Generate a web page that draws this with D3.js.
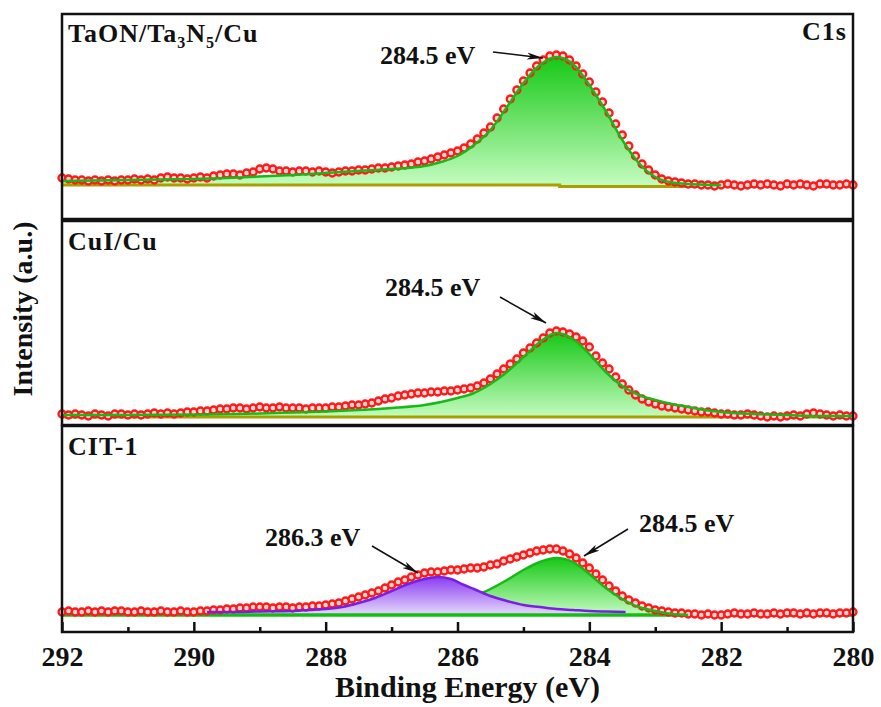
<!DOCTYPE html>
<html>
<head>
<meta charset="utf-8">
<script src="https://cdn.jsdelivr.net/npm/d3@7"></script>
<style>
body { margin: 0; background: #fff; }
text { font-family: "Liberation Serif", "Times New Roman", serif; font-weight: bold; fill: #111; }
</style>
</head>
<body>
<svg width="881" height="707"></svg>
<script>
// binding energy of every measured point (eV)
var energies = [292.0, 291.9, 291.8, 291.7, 291.6, 291.5, 291.4, 291.3, 291.2, 291.1,
  291.0, 290.9, 290.8, 290.7, 290.6, 290.5, 290.4, 290.3, 290.2, 290.1,
  290.0, 289.9, 289.8, 289.7, 289.6, 289.5, 289.4, 289.3, 289.2, 289.1,
  289.0, 288.9, 288.8, 288.7, 288.6, 288.5, 288.4, 288.3, 288.2, 288.1,
  288.0, 287.9, 287.8, 287.7, 287.6, 287.5, 287.4, 287.3, 287.2, 287.1,
  287.0, 286.9, 286.8, 286.7, 286.6, 286.5, 286.4, 286.3, 286.2, 286.1,
  286.0, 285.9, 285.8, 285.7, 285.6, 285.5, 285.4, 285.3, 285.2, 285.1,
  285.0, 284.9, 284.8, 284.7, 284.6, 284.5, 284.4, 284.3, 284.2, 284.1,
  284.0, 283.9, 283.8, 283.7, 283.6, 283.5, 283.4, 283.3, 283.2, 283.1,
  283.0, 282.9, 282.8, 282.7, 282.6, 282.5, 282.4, 282.3, 282.2, 282.1,
  282.0, 281.9, 281.8, 281.7, 281.6, 281.5, 281.4, 281.3, 281.2, 281.1,
  281.0, 280.9, 280.8, 280.7, 280.6, 280.5, 280.4, 280.3, 280.2, 280.1,
  280.0];

// measured intensities (a.u., background removed)
var rawTaON = [7, 6, 5, 5, 4, 5, 4, 5, 4, 5,
  5, 6, 5, 6, 5, 7, 8, 7, 7, 6,
  7, 8, 7, 9, 10, 11, 11, 10, 12, 13,
  16, 17, 16, 14, 14, 13, 14, 14, 13, 14,
  13, 12, 13, 14, 14, 15, 15, 16, 17, 17,
  18, 19, 20, 21, 23, 24, 26, 28, 30, 32,
  34, 37, 41, 46, 52, 58, 67, 76, 86, 95,
  104, 112, 119, 125, 129, 130, 129, 125, 119, 111,
  103, 93, 83, 72, 61, 50, 39, 29, 21, 15,
  10, 6, 4, 3, 2, 1, 1, 0, 0, -1,
  0, 1, 0, -1, 0, 1, 0, 1, 0, -1,
  1, 0, 1, 0, -1, 1, 1, 0, 0, 1,
  0];
var rawCuI = [3, 2, 3, 2, 1, 3, 2, 1, 3, 3,
  2, 3, 2, 3, 4, 3, 4, 3, 4, 5,
  5, 6, 6, 7, 8, 8, 9, 9, 8, 9,
  10, 9, 9, 10, 9, 9, 9, 8, 9, 9,
  9, 10, 10, 11, 12, 12, 13, 14, 16, 18,
  19, 21, 22, 23, 24, 24, 25, 25, 26, 26,
  27, 28, 29, 31, 34, 38, 43, 48, 53, 58,
  64, 69, 74, 79, 84, 86, 85, 83, 80, 76,
  70, 61, 54, 48, 40, 33, 27, 22, 18, 15,
  13, 11, 10, 9, 8, 7, 6, 5, 5, 4,
  3, 3, 2, 2, 3, 2, 1, 0, 1, 0,
  1, 2, 1, 3, 4, 3, 2, 1, 2, 1,
  1];
var rawCIT = [3, 4, 3, 3, 4, 3, 4, 3, 4, 4,
  3, 3, 4, 3, 3, 4, 3, 3, 4, 3,
  3, 4, 4, 5, 5, 6, 6, 7, 7, 8,
  8, 8, 7, 8, 8, 7, 8, 8, 9, 9,
  10, 11, 12, 14, 16, 18, 20, 22, 24, 27,
  30, 33, 35, 38, 40, 42, 43, 43, 44, 45,
  45, 46, 47, 47, 48, 50, 51, 54, 56, 58,
  60, 62, 64, 65, 66, 66, 64, 61, 57, 52,
  47, 41, 35, 29, 24, 19, 15, 12, 9, 7,
  5, 4, 3, 2, 2, 1, 1, 0, 1, 0,
  0, 1, 2, 1, 1, 2, 1, 1, 2, 1,
  2, 2, 1, 2, 1, 2, 2, 1, 2, 2,
  3];

// fitted C-C peak (284.5 eV) of each sample
var fitTaONE = [292, 291.5, 291, 290.5, 290, 289.5, 289, 288.5, 288, 287.5, 287, 286.5, 286.25, 286,
  285.75, 285.5, 285.25, 285, 284.75, 284.5, 284.25, 284, 283.75, 283.5, 283.25, 283, 282.75, 282.5, 282.25, 282];
var fitTaONI = [4, 4.5, 5, 5.5, 6, 7, 8.5, 10, 12, 14, 16, 19, 23, 29,
  40, 55, 78, 102, 120, 128, 121, 100, 74, 45, 22, 8, 2.5, 1, 0.3, 0];
var fitCuIE = [292, 291, 290, 289, 288.5, 288, 287.5, 287, 286.5, 286.25, 286, 285.75, 285.5, 285.25, 285,
  284.75, 284.5, 284.25, 284, 283.75, 283.5, 283.25, 283, 282.75, 282.5, 282.25, 282, 281.5, 281, 280.5, 280];
var fitCuII = [2, 2, 2.5, 3.5, 4.5, 5.5, 7, 9, 12, 15, 19, 24, 33, 45, 60,
  75, 84, 78, 63, 45, 31, 22, 17, 13, 10, 7, 5, 3, 2, 1, 1];
var fitCITE = [285.63, 285.5, 285.25, 285, 284.75, 284.5, 284.25, 284, 283.75, 283.5, 283.25, 283, 282.75, 282.5];
var fitCITI = [22, 26, 35, 45, 53, 57, 53, 41, 27, 16, 8, 4, 1, 0];
// fitted C-O peak (286.3 eV) of CIT-1
var fitCOE = [289.8, 289.5, 289, 288.5, 288.25, 288, 287.75, 287.5, 287.25, 287, 286.75, 286.5, 286.3,
  286.1, 285.9, 285.75, 285.5, 285.25, 285, 284.75, 284.5, 284.25, 284, 283.75, 283.45];
var fitCOI = [3, 3, 3.5, 4, 5, 6, 8, 12, 17, 24, 31, 36, 38,
  36, 30, 26, 19, 14, 10, 8, 6, 5, 4, 3.5, 3];
// background lines
var bgTaONE = [292, 284.45, 284.45, 280];
var bgTaONI = [0, 0, -1.5, -1.5];
var bgFlatE = [292, 280];
var bgFlatI = [0, 0];

var sampleNames = ["CuI/Cu", "CIT-1"];
var xMajor = [292, 290, 288, 286, 284, 282, 280];
var xMinor = [291, 289, 287, 285, 283, 281];

var svg = d3.select("svg");
var left = 62, right = 853;
var x = d3.scaleLinear().domain([292, 280]).range([left, right]);

// three stacked panels, 1 a.u. = 1 px
var panels = [{top: 14, bottom: 219, base: 185},
              {top: 221, bottom: 425, base: 417},
              {top: 426, bottom: 632, base: 615}];
panels.forEach(function(p) {
  p.y = d3.scaleLinear().domain([0, 100]).range([p.base, p.base - 100]);
});

var defs = svg.append("defs");
function grad(id, c0, c1) {
  var g = defs.append("linearGradient").attr("id", id)
    .attr("x1", 0).attr("y1", 0).attr("x2", 0).attr("y2", 1);
  g.append("stop").attr("offset", "0%").attr("stop-color", c0);
  g.append("stop").attr("offset", "100%").attr("stop-color", c1);
}
grad("gGreen", "#16c816", "#c4fcbf");
grad("gPurple", "#8a3cf0", "#e6dafc");
defs.append("marker").attr("id", "arrow")
  .attr("viewBox", "0 0 16 8").attr("refX", 16).attr("refY", 4)
  .attr("markerWidth", 16).attr("markerHeight", 8)
  .attr("markerUnits", "userSpaceOnUse").attr("orient", "auto")
  .append("path").attr("d", "M0,0.5 L16,4 L0,7.5 L4,4 Z").attr("fill", "#111");

function pts(E, I) { return E.map(function(e, i) { return [e, I[i]]; }); }

function drawPeak(g, p, E, I, gradId, lineColor) {
  var data = pts(E, I);
  g.append("path").datum(data)
    .attr("fill", "url(#" + gradId + ")")
    .attr("d", d3.area().x(function(d) { return x(d[0]); })
      .y0(p.y(0)).y1(function(d) { return p.y(d[1]); })
      .curve(d3.curveMonotoneX));
  return function() {
    g.append("path").datum(data)
      .attr("fill", "none").attr("stroke", lineColor).attr("stroke-width", 2.5)
      .attr("d", d3.line().x(function(d) { return x(d[0]); })
        .y(function(d) { return p.y(d[1]); }).curve(d3.curveMonotoneX));
  };
}

function drawBg(g, p, E, I, color, w) {
  g.append("path").datum(pts(E, I))
    .attr("fill", "none").attr("stroke", color).attr("stroke-width", w)
    .attr("d", d3.line().x(function(d) { return x(d[0]); }).y(function(d) { return p.y(d[1]); }));
}

function drawRaw(g, p, raw) {
  g.selectAll("circle.raw").data(pts(energies, raw)).enter()
    .append("circle").attr("class", "raw")
    .attr("cx", function(d) { return x(d[0]); })
    .attr("cy", function(d) { return p.y(d[1]); })
    .attr("r", 3.5)
    .attr("fill", "#ffd6d6").attr("stroke", "#ff1a1a").attr("stroke-width", 2.3);
}

// panel 1: TaON/Ta3N5/Cu
var g1 = svg.append("g");
var line1 = drawPeak(g1, panels[0], fitTaONE, fitTaONI, "gGreen", "#18b818");
drawBg(g1, panels[0], bgTaONE, bgTaONI, "#a8a000", 3);
drawRaw(g1, panels[0], rawTaON);
line1();

// panel 2: CuI/Cu
var g2 = svg.append("g");
var line2 = drawPeak(g2, panels[1], fitCuIE, fitCuII, "gGreen", "#18b818");
drawBg(g2, panels[1], bgFlatE, bgFlatI, "#a8a000", 3);
drawRaw(g2, panels[1], rawCuI);
line2();

// panel 3: CIT-1
var g3 = svg.append("g");
var line3a = drawPeak(g3, panels[2], fitCITE, fitCITI, "gGreen", "#18b818");
var line3b = drawPeak(g3, panels[2], fitCOE, fitCOI, "gPurple", "#7a1ee6");
drawBg(g3, panels[2], bgFlatE, bgFlatI, "#10c010", 3.5);
drawRaw(g3, panels[2], rawCIT);
line3a();
line3b();

// frames
panels.forEach(function(p) {
  svg.append("rect").attr("x", left).attr("y", p.top)
    .attr("width", right - left).attr("height", p.bottom - p.top)
    .attr("fill", "none").attr("stroke", "#111").attr("stroke-width", 2.5);
});

// bottom axis with inward ticks
var axisG = svg.append("g").attr("transform", "translate(0," + panels[2].bottom + ")");
axisG.call(d3.axisBottom(x).tickValues(xMajor).tickSizeInner(-10).tickSizeOuter(0)
  .tickPadding(14).tickFormat(d3.format("d")));
axisG.select(".domain").remove();
axisG.selectAll(".tick line").attr("stroke", "#111").attr("stroke-width", 2.5);
axisG.selectAll(".tick text").attr("font-size", 28).attr("font-family", null);
var minorG = svg.append("g").attr("transform", "translate(0," + panels[2].bottom + ")");
minorG.call(d3.axisBottom(x).tickValues(xMinor).tickSizeInner(-5).tickSizeOuter(0).tickFormat(""));
minorG.select(".domain").remove();
minorG.selectAll(".tick line").attr("stroke", "#111").attr("stroke-width", 2.5);

svg.append("text").attr("x", (left + right) / 2 + 10).attr("y", 697)
  .attr("text-anchor", "middle").attr("font-size", 30).text("Binding Energy (eV)");
svg.append("text").attr("transform", "translate(32,309) rotate(-90)")
  .attr("text-anchor", "middle").attr("font-size", 28).text("Intensity (a.u.)");

// sample labels
var t1 = svg.append("text").attr("x", 68).attr("y", 42).attr("font-size", 26).attr("letter-spacing", 1);
t1.append("tspan").text("TaON/Ta");
t1.append("tspan").attr("font-size", 16).attr("dy", 6).text("3");
t1.append("tspan").attr("dy", -6).text("N");
t1.append("tspan").attr("font-size", 16).attr("dy", 6).text("5");
t1.append("tspan").attr("dy", -6).text("/Cu");
svg.append("text").attr("x", 847).attr("y", 40).attr("text-anchor", "end")
  .attr("font-size", 26).attr("letter-spacing", 1).text("C1s");
svg.append("text").attr("x", 68).attr("y", 250).attr("font-size", 26).attr("letter-spacing", 1).text(sampleNames[0]);
svg.append("text").attr("x", 68).attr("y", 455).attr("font-size", 26).attr("letter-spacing", 1).text(sampleNames[1]);

// peak annotations
var notes = [
  {text: "284.5 eV", tx: 380, ty: 64, from: [493, 52], to: [543, 58]},
  {text: "284.5 eV", tx: 385, ty: 296, from: [500, 297], to: [546, 323]},
  {text: "286.3 eV", tx: 265, ty: 546, from: [372, 546], to: [418, 573]},
  {text: "284.5 eV", tx: 639, ty: 532, from: [628, 529], to: [584, 556]}
];
notes.forEach(function(n) {
  svg.append("text").attr("x", n.tx).attr("y", n.ty).attr("font-size", 26).text(n.text);
  svg.append("line").attr("x1", n.from[0]).attr("y1", n.from[1])
    .attr("x2", n.to[0]).attr("y2", n.to[1])
    .attr("stroke", "#111").attr("stroke-width", 1.5).attr("marker-end", "url(#arrow)");
});
</script>
</body>
</html>
